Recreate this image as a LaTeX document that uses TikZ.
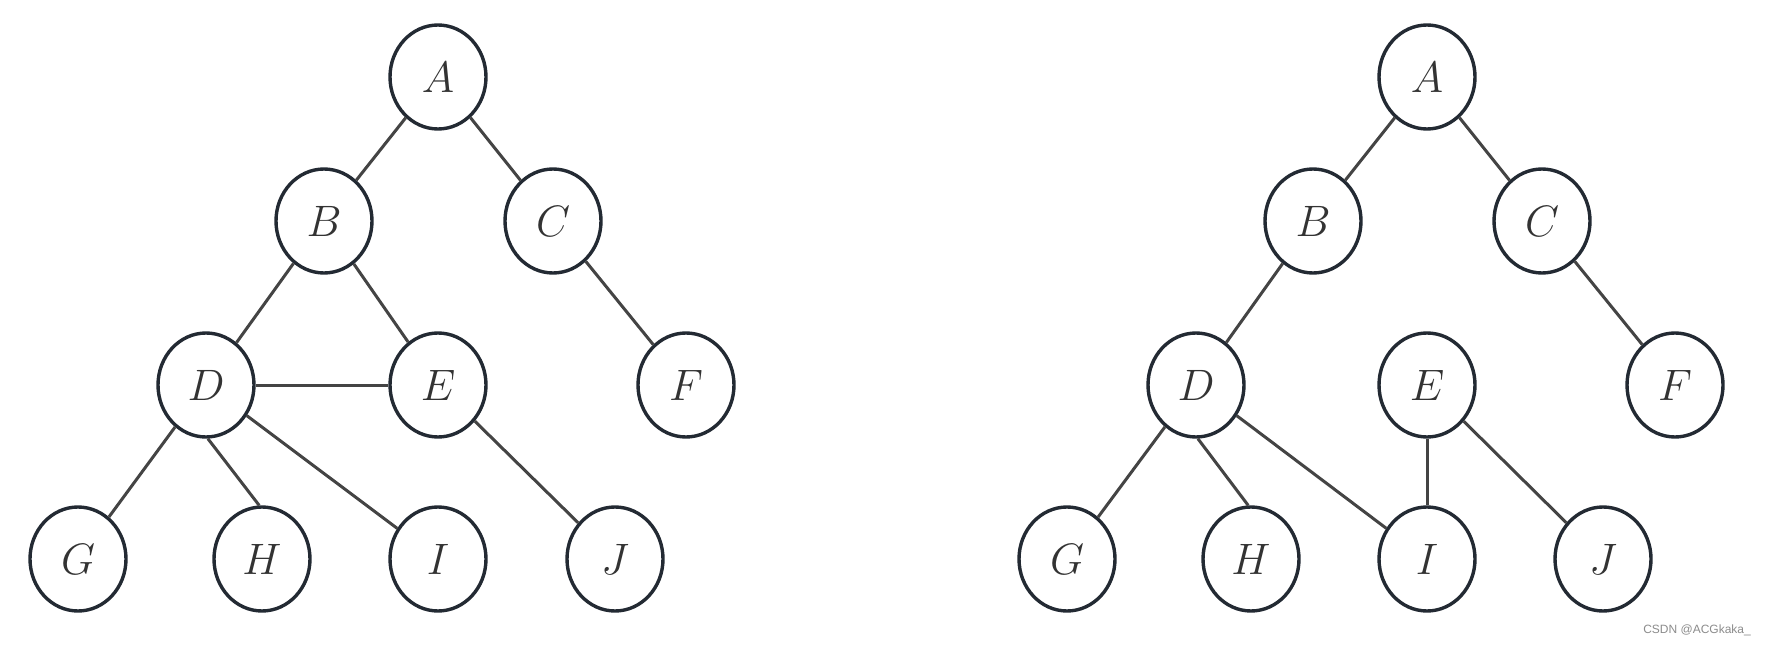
\RequirePackage{fix-cm}
\documentclass[tikz,border=0pt]{standalone}
\usepackage{fontspec}
\newfontfamily\wmfont{Liberation Sans}
\usetikzlibrary{shapes.geometric}
\definecolor{ringc}{HTML}{232A33}
\definecolor{edgec}{HTML}{444444}
\definecolor{txtc}{HTML}{333333}
\tikzset{
  vtx/.style={ellipse, draw=ringc, line width=3.4pt, minimum width=96pt, minimum height=104pt, inner sep=0pt, text=txtc, font=\fontsize{44}{48}\selectfont},
  edg/.style={draw=edgec, line width=3pt},
}
\begin{document}
\begin{tikzpicture}[x=1pt,y=-1pt]
\useasboundingbox[fill=white] (0,0) rectangle (1769,647);
% left tree
\node[vtx] (lA) at (438,77) {$A$};
\node[vtx] (lB) at (324,221) {$B$};
\node[vtx] (lC) at (553,221) {$C$};
\node[vtx] (lD) at (206,385) {$D$};
\node[vtx] (lE) at (438,385) {$E$};
\node[vtx] (lF) at (686,385) {$F$};
\node[vtx] (lG) at (78,559) {$G$};
\node[vtx] (lH) at (262,559) {$H$};
\node[vtx] (lI) at (438,559) {$I$};
\node[vtx] (lJ) at (615,559) {$J$};
\draw[edg] (lA) -- (lB);
\draw[edg] (lA) -- (lC);
\draw[edg] (lB) -- (lD);
\draw[edg] (lB) -- (lE);
\draw[edg] (lC) -- (lF);
\draw[edg] (lD) -- (lE);
\draw[edg] (lD) -- (lG);
\draw[edg] (lD.-88) -- (lH.93);
\draw[edg] (lD) -- (lI);
\draw[edg] (lE) -- (lJ);
% right tree
\node[vtx] (rA) at (1427,77) {$A$};
\node[vtx] (rB) at (1313,221) {$B$};
\node[vtx] (rC) at (1542,221) {$C$};
\node[vtx] (rD) at (1196,385) {$D$};
\node[vtx] (rE) at (1427,385) {$E$};
\node[vtx] (rF) at (1675,385) {$F$};
\node[vtx] (rG) at (1067,559) {$G$};
\node[vtx] (rH) at (1251,559) {$H$};
\node[vtx] (rI) at (1427,559) {$I$};
\node[vtx] (rJ) at (1603,559) {$J$};
\draw[edg] (rA) -- (rB);
\draw[edg] (rA) -- (rC);
\draw[edg] (rB) -- (rD);
\draw[edg] (rC) -- (rF);
\draw[edg] (rD) -- (rG);
\draw[edg] (rD.-88) -- (rH.93);
\draw[edg] (rD) -- (rI);
\draw[edg] (rE) -- (rI);
\draw[edg] (rE) -- (rJ);
% watermark
\node[text=black!45, font=\wmfont\fontsize{12}{14}\selectfont, inner sep=0pt] (wm) at (1697,630) {CSDN @ACGkaka\_};
\end{tikzpicture}
\end{document}
